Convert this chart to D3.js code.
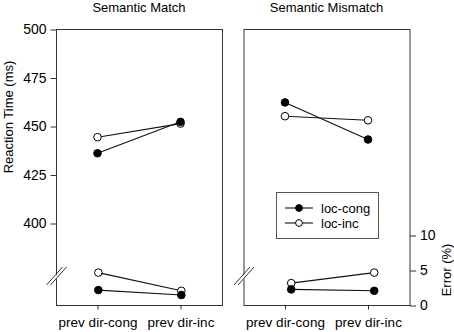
<!DOCTYPE html>
<html>
<head>
<meta charset="utf-8">
<script src="https://cdn.jsdelivr.net/npm/d3@7"></script>
<style>
  body { margin: 0; background: #fff; }
  text { font-family: "Liberation Sans", Arial, sans-serif; font-size: 13px; fill: #000; }
</style>
</head>
<body>
<svg id="chart" width="454" height="332"></svg>
<script>
// data
var panels = ["Semantic Match", "Semantic Mismatch"];
var conditions = ["prev dir-cong", "prev dir-inc"];
var seriesNames = ["loc-cong", "loc-inc"];
// reaction time (ms), [panel][condition]
var rtLocCong = [[436.2, 452.4], [462.4, 443.3]];
var rtLocInc  = [[444.5, 451.5], [455.3, 453.2]];
// error (%)
var errLocCong = [[2.2, 1.5], [2.3, 2.1]];
var errLocInc  = [[4.7, 2.1], [3.2, 4.7]];
var rtTicks = [400, 425, 450, 475, 500];
var errTicks = [0, 5, 10];

var svg = d3.select("#chart");

var plotTop = 29.5, plotBottom = 305.5;
var panelX = [[56, 222], [243.5, 409.5]];
var errShift = [0.01, 0.075];

// RT scale (extrapolates below 400 into the broken part)
var yRT = d3.scaleLinear().domain([400, 500]).range([223.5, plotTop]);
var yErr = d3.scaleLinear().domain([0, 10]).range([plotBottom, 235.5]);

panels.forEach(function(title, p) {
    var x = d3.scaleLinear().domain([0.5, 2.5]).range(panelX[p]);
    var g = svg.append("g");

    // frame
    g.append("rect")
        .attr("x", panelX[p][0] + 0.5).attr("y", plotTop)
        .attr("width", panelX[p][1] - panelX[p][0]).attr("height", plotBottom - plotTop)
        .attr("fill", "none").attr("stroke", "#333").attr("stroke-width", 1);

    // title
    g.append("text")
        .attr("x", (panelX[p][0] + panelX[p][1]) / 2)
        .attr("y", 12)
        .attr("text-anchor", "middle")
        .text(title);

    // bottom axis
    var xAxis = d3.axisBottom(x).tickValues([1, 2])
        .tickFormat(function(d) { return conditions[d - 1]; })
        .tickSize(4).tickPadding(8).tickSizeOuter(0);
    var xg = g.append("g").attr("transform", "translate(0," + plotBottom + ")").call(xAxis);
    xg.select(".domain").remove();
    xg.selectAll("line").attr("stroke", "#333");
    xg.selectAll("text").style("font-size", "13.5px").attr("fill", "#000");

    // axis break
    var bx = panelX[p][0] + 0.5, by = 276;
    g.append("path")
        .attr("d", "M" + (bx - 6) + "," + (by + 5) + "L" + (bx + 4) + "," + (by - 5) + "L" + (bx + 8) + "," + (by - 5) + "L" + (bx - 2) + "," + (by + 5) + "Z")
        .attr("fill", "#fff").attr("stroke", "none");
    [-2, 2].forEach(function(o) {
        g.append("line")
            .attr("x1", bx + o - 8).attr("y1", by + 9)
            .attr("x2", bx + o + 8).attr("y2", by - 9)
            .attr("stroke", "#333").attr("stroke-width", 1);
    });

    function drawSeries(vals, filled, yScale, shift) {
        var pts = vals.map(function(v, i) { return [x(i + 1 + shift), yScale(v)]; });
        g.append("path")
            .attr("d", d3.line()(pts))
            .attr("fill", "none").attr("stroke", "#111").attr("stroke-width", 1.1);
        g.selectAll(null).data(pts).enter().append("circle")
            .attr("cx", function(d) { return d[0]; })
            .attr("cy", function(d) { return d[1]; })
            .attr("r", 3.8)
            .attr("fill", filled ? "#000" : "#fff")
            .attr("stroke", "#000").attr("stroke-width", 1);
    }

    drawSeries(rtLocInc[p], false, yRT, 0);
    drawSeries(rtLocCong[p], true, yRT, 0);
    drawSeries(errLocInc[p], false, yErr, errShift[p]);
    drawSeries(errLocCong[p], true, yErr, errShift[p]);
});

// left RT axis
var ya = d3.axisLeft(yRT).tickValues(rtTicks).tickSize(6).tickPadding(4);
var yg = svg.append("g").attr("transform", "translate(56.5,0)").call(ya);
yg.select(".domain").remove();
yg.selectAll("line").attr("stroke", "#333");
yg.selectAll("text").style("font-size", "14px").attr("fill", "#000");

svg.append("text")
    .attr("transform", "translate(13,117) rotate(-90)")
    .attr("text-anchor", "middle")
    .text("Reaction Time (ms)");

// right error axis
var ea = d3.axisRight(yErr).tickValues(errTicks).tickSize(6).tickPadding(4);
var eg = svg.append("g").attr("transform", "translate(410,0)").call(ea);
eg.select(".domain").remove();
eg.selectAll("line").attr("stroke", "#333");
eg.selectAll("text").style("font-size", "14px").attr("fill", "#000");

svg.append("text")
    .attr("transform", "translate(451,270) rotate(-90)")
    .attr("text-anchor", "middle")
    .text("Error (%)");

// legend
var lg = svg.append("g");
lg.append("rect")
    .attr("x", 276.5).attr("y", 192.5).attr("width", 102).attr("height", 46)
    .attr("fill", "#fff").attr("stroke", "#555").attr("stroke-width", 1);
seriesNames.forEach(function(name, i) {
    var ly = 208 + i * 15;
    lg.append("line").attr("x1", 285).attr("x2", 313).attr("y1", ly).attr("y2", ly)
        .attr("stroke", "#111").attr("stroke-width", 1.1);
    lg.append("circle").attr("cx", 299).attr("cy", ly).attr("r", 3.4)
        .attr("fill", i === 0 ? "#000" : "#fff").attr("stroke", "#000");
    lg.append("text").attr("x", 321).attr("y", ly + 4.5).text(name);
});
</script>
</body>
</html>
